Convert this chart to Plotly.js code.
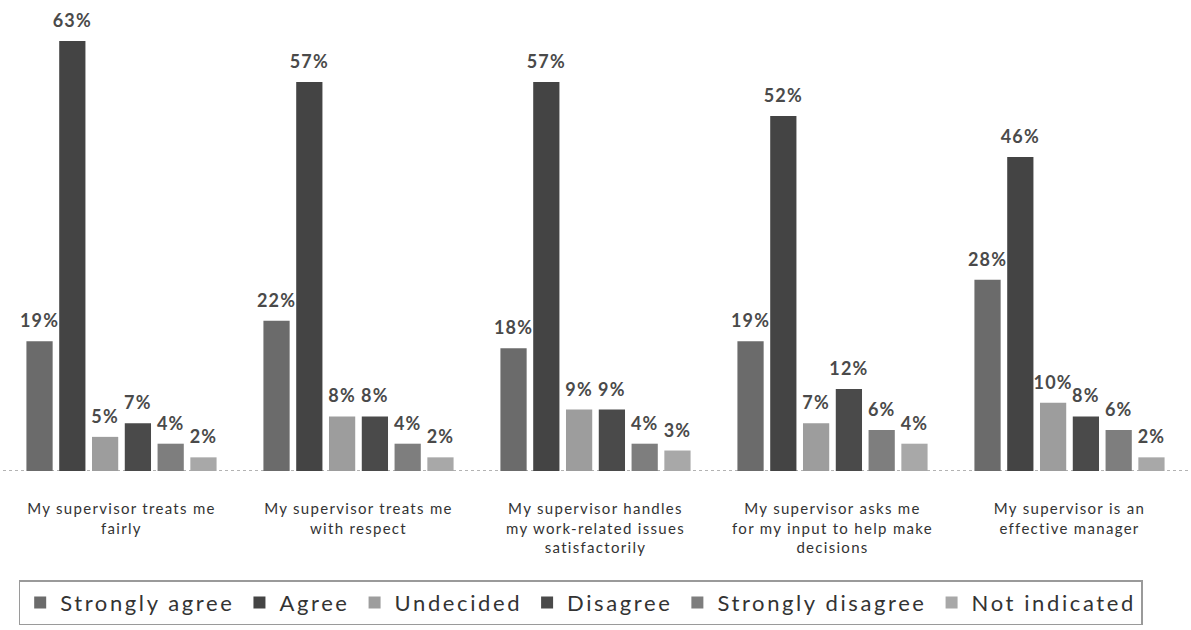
<!DOCTYPE html>
<html>
<head>
<meta charset="utf-8">
<script src="https://cdn.plot.ly/plotly-3.0.1.min.js"></script>
<style>
  html, body { margin: 0; padding: 0; background: #ffffff; }
  #chart { width: 1191px; height: 630px; }
  /* wide, airy lettering for the printed-report look */
  text.legendtext { letter-spacing: 2.6px; }
  .xtick text { letter-spacing: 1.3px; }
  .textpoint text, text.bartext { letter-spacing: 1.2px; }
</style>
</head>
<body>
<div id="chart"></div>
<script>
// Survey statements (x-axis categories)
const categories = [
  "My supervisor treats me<br>fairly",
  "My supervisor treats me<br>with respect",
  "My supervisor handles<br>my work-related issues<br>satisfactorily",
  "My supervisor asks me<br>for my input to help make<br>decisions",
  "My supervisor is an<br>effective manager"
];

// Response shares (%) per statement
const stronglyAgree    = [19, 22, 18, 19, 28];
const agree            = [63, 57, 57, 52, 46];
const undecided        = [5, 8, 9, 7, 10];
const disagree         = [7, 8, 9, 12, 8];
const stronglyDisagree = [4, 4, 4, 6, 6];
const notIndicated     = [2, 2, 3, 4, 2];

const seriesNames  = ["Strongly agree", "Agree", "Undecided", "Disagree", "Strongly disagree", "Not indicated"];
const seriesValues = [stronglyAgree, agree, undecided, disagree, stronglyDisagree, notIndicated];
const seriesColors = ["#6b6b6b", "#444444", "#9d9d9d", "#4a4a4a", "#7e7e7e", "#a8a8a8"];

const traces = seriesNames.map((name, i) => ({
  type: "bar",
  name: name,
  x: categories,
  y: seriesValues[i],
  text: seriesValues[i].map(v => v + "%"),
  textposition: "outside",
  constraintext: "none",
  cliponaxis: false,
  textfont: { family: "Lato, 'Open Sans', sans-serif", size: 18, color: "#4a4a4a", weight: 700 },
  marker: { color: seriesColors[i], line: { width: 0 } },
  hoverinfo: "skip"
}));

const layout = {
  width: 1191,
  height: 630,
  paper_bgcolor: "#ffffff",
  plot_bgcolor: "#ffffff",
  margin: { l: 3, r: 3, t: 0, b: 159 },
  barmode: "group",
  bargap: 0.17,
  bargroupgap: 0.2,
  showlegend: true,
  font: { family: "Lato, 'Open Sans', sans-serif", color: "#333333" },
  xaxis: {
    type: "category",
    showgrid: false,
    zeroline: false,
    showline: false,
    ticks: "",
    ticklabelstandoff: 27,
    tickfont: { size: 15, color: "#333333" },
    tickangle: 0
  },
  yaxis: {
    range: [0, 69],
    visible: false,
    showgrid: false,
    zeroline: false
  },
  shapes: [{
    type: "line",
    xref: "paper", x0: 0, x1: 1,
    yref: "y", y0: 0, y1: 0,
    line: { color: "#9a9a9a", width: 1.5, dash: "dot" },
    layer: "below"
  }],
  legend: {
    orientation: "h",
    x: 0.4875,
    xanchor: "center",
    y: -0.232,
    yanchor: "top",
    bordercolor: "#9a9a9a",
    borderwidth: 1.5,
    bgcolor: "#ffffff",
    font: { size: 22, color: "#333333" },
    itemwidth: 30,
    traceorder: "normal"
  }
};

Plotly.newPlot("chart", traces, layout, { staticPlot: true, displayModeBar: false }).then(gd => {
  // lift the value labels a little further above their bars
  gd.querySelectorAll("text.bartext").forEach(t => {
    const y = parseFloat(t.getAttribute("y")) || 0;
    t.setAttribute("y", y - 7);
  });
});
</script>
</body>
</html>
